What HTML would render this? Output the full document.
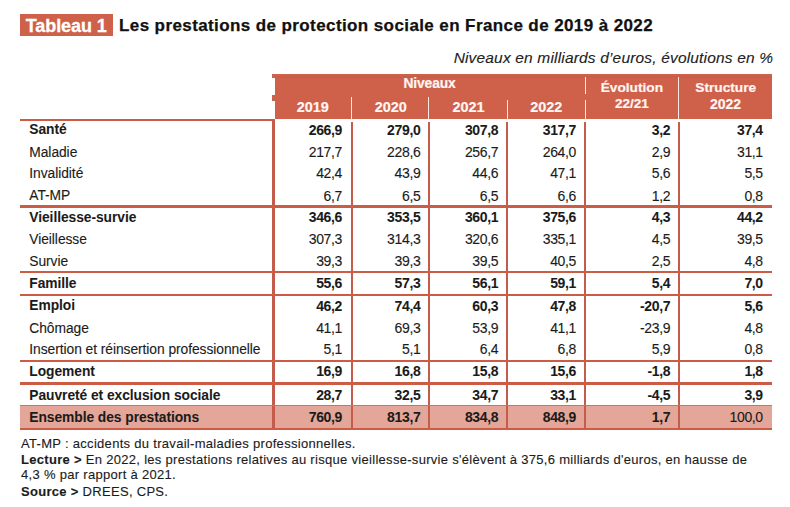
<!DOCTYPE html>
<html><head><meta charset="utf-8"><title>Tableau 1</title>
<style>
html,body{margin:0;padding:0;background:#ffffff;}
body{width:790px;height:507px;position:relative;overflow:hidden;font-family:"Liberation Sans",sans-serif;color:#1b1b1b;}
.t{position:absolute;white-space:nowrap;-webkit-text-stroke:0.12px currentColor;}
.r{position:absolute;}
</style></head><body>
<div class="r" style="left:20.3px;top:14.4px;width:92.8px;height:21.7px;background:#cf614b"></div>
<div class="t" style="top:15.76px;font-size:18px;line-height:21.6px;font-weight:bold;-webkit-text-stroke:0.05px currentColor;color:#ffffff;letter-spacing:-0.1px;left:25.80px;-webkit-text-stroke:0.3px #fff;">Tableau 1</div>
<div class="t" style="top:15.51px;font-size:17px;line-height:20.4px;font-weight:bold;-webkit-text-stroke:0.05px currentColor;color:#111111;letter-spacing:0.4px;left:119.00px;-webkit-text-stroke:0.25px #111;">Les prestations de protection sociale en France de 2019 à 2022</div>
<div class="t" style="top:48.83px;font-size:15.5px;line-height:18.6px;font-style:italic;color:#222222;letter-spacing:0.17px;right:17.00px;margin-right:-0.17px;">Niveaux en milliards d’euros, évolutions en %</div>
<div class="r" style="left:274.9px;top:74.2px;width:496.9px;height:45.3px;background:#cf614b"></div>
<div class="r" style="left:274.9px;top:76.2px;width:496.9px;height:1.6px;background:#c75f48"></div>
<div class="r" style="left:272px;top:74.2px;width:3px;height:4px;background:#cd644f"></div>
<div class="r" style="left:272px;top:95.2px;width:3px;height:5.4px;background:#c7644f"></div>
<div class="r" style="left:350.5px;top:97.3px;width:1.2px;height:22.2px;background:#fbe9e2"></div>
<div class="r" style="left:428.3px;top:97.3px;width:1.2px;height:22.2px;background:#fbe9e2"></div>
<div class="r" style="left:506.7px;top:99.5px;width:1.2px;height:20.0px;background:#fbe9e2"></div>
<div class="r" style="left:584.5px;top:77.4px;width:1.2px;height:16.8px;background:#fbe9e2"></div>
<div class="r" style="left:584.5px;top:99.8px;width:1.2px;height:19.7px;background:#fbe9e2"></div>
<div class="r" style="left:678.0px;top:77.4px;width:1.2px;height:42.1px;background:#fbe9e2"></div>
<div class="t" style="top:76.44px;font-size:13.8px;line-height:16.56px;font-weight:bold;-webkit-text-stroke:0.05px currentColor;color:#fff6f2;letter-spacing:-0.1px;left:229.50px;width:400px;text-align:center;-webkit-text-stroke:0.2px #fff6f2;">Niveaux</div>
<div class="t" style="top:99.37px;font-size:14.4px;line-height:17.28px;font-weight:bold;-webkit-text-stroke:0.05px currentColor;color:#fff6f2;left:112.75px;width:400px;text-align:center;-webkit-text-stroke:0.2px #fff6f2;">2019</div>
<div class="t" style="top:99.37px;font-size:14.4px;line-height:17.28px;font-weight:bold;-webkit-text-stroke:0.05px currentColor;color:#fff6f2;left:190.75px;width:400px;text-align:center;-webkit-text-stroke:0.2px #fff6f2;">2020</div>
<div class="t" style="top:99.37px;font-size:14.4px;line-height:17.28px;font-weight:bold;-webkit-text-stroke:0.05px currentColor;color:#fff6f2;left:268.50px;width:400px;text-align:center;-webkit-text-stroke:0.2px #fff6f2;">2021</div>
<div class="t" style="top:99.37px;font-size:14.4px;line-height:17.28px;font-weight:bold;-webkit-text-stroke:0.05px currentColor;color:#fff6f2;left:346.35px;width:400px;text-align:center;-webkit-text-stroke:0.2px #fff6f2;">2022</div>
<div class="t" style="top:80.03px;font-size:13.7px;line-height:16.44px;font-weight:bold;-webkit-text-stroke:0.05px currentColor;color:#fff6f2;left:431.90px;width:400px;text-align:center;-webkit-text-stroke:0.2px #fff6f2;">Évolution</div>
<div class="t" style="top:96.12px;font-size:13.5px;line-height:16.2px;font-weight:bold;-webkit-text-stroke:0.05px currentColor;color:#fff6f2;left:431.90px;width:400px;text-align:center;-webkit-text-stroke:0.2px #fff6f2;">22/21</div>
<div class="t" style="top:80.03px;font-size:13.7px;line-height:16.44px;font-weight:bold;-webkit-text-stroke:0.05px currentColor;color:#fff6f2;left:525.70px;width:400px;text-align:center;-webkit-text-stroke:0.2px #fff6f2;">Structure</div>
<div class="t" style="top:95.65px;font-size:14px;line-height:16.8px;font-weight:bold;-webkit-text-stroke:0.05px currentColor;color:#fff6f2;left:525.60px;width:400px;text-align:center;-webkit-text-stroke:0.2px #fff6f2;">2022</div>
<div class="r" style="left:20px;top:405.2px;width:752px;height:23.6px;background:#e3a698"></div>
<div class="r" style="left:272.2px;top:120.3px;width:2.4px;height:308.5px;background:#c45c4c"></div>
<div class="r" style="left:351.15px;top:121.8px;width:2.1px;height:307.0px;background:#c45c4c"></div>
<div class="r" style="left:428.35px;top:121.8px;width:2.1px;height:307.0px;background:#c45c4c"></div>
<div class="r" style="left:506.05px;top:121.8px;width:2.1px;height:307.0px;background:#c45c4c"></div>
<div class="r" style="left:584.35px;top:121.8px;width:2.1px;height:307.0px;background:#c45c4c"></div>
<div class="r" style="left:677.55px;top:121.8px;width:2.1px;height:307.0px;background:#c45c4c"></div>
<div class="r" style="left:20px;top:118.5px;width:254.5px;height:2.2px;background:#cd5c47"></div>
<div class="r" style="left:20px;top:205.35px;width:752px;height:2.3px;background:#cd5c47"></div>
<div class="r" style="left:20px;top:271.05px;width:752px;height:2.3px;background:#cd5c47"></div>
<div class="r" style="left:20px;top:293.65px;width:752px;height:2.3px;background:#cd5c47"></div>
<div class="r" style="left:20px;top:359.95px;width:752px;height:2.3px;background:#cd5c47"></div>
<div class="r" style="left:20px;top:382.25px;width:752px;height:2.3px;background:#cd5c47"></div>
<div class="r" style="left:20px;top:404.6px;width:752px;height:1.5px;background:#d4705e"></div>
<div class="r" style="left:20px;top:427.65px;width:752px;height:2.3px;background:#cd5c47"></div>
<div class="t" style="top:122.44px;font-size:13.8px;line-height:16.56px;font-weight:bold;-webkit-text-stroke:0.05px currentColor;letter-spacing:-0.05px;left:29.30px;">Santé</div>
<div class="t" style="top:121.85px;font-size:14px;line-height:16.8px;font-weight:bold;-webkit-text-stroke:0.05px currentColor;letter-spacing:-0.35px;right:448.00px;margin-right:--0.35px;">266,9</div>
<div class="t" style="top:121.85px;font-size:14px;line-height:16.8px;font-weight:bold;-webkit-text-stroke:0.05px currentColor;letter-spacing:-0.35px;right:369.60px;margin-right:--0.35px;">279,0</div>
<div class="t" style="top:121.85px;font-size:14px;line-height:16.8px;font-weight:bold;-webkit-text-stroke:0.05px currentColor;letter-spacing:-0.35px;right:291.80px;margin-right:--0.35px;">307,8</div>
<div class="t" style="top:121.85px;font-size:14px;line-height:16.8px;font-weight:bold;-webkit-text-stroke:0.05px currentColor;letter-spacing:-0.35px;right:214.00px;margin-right:--0.35px;">317,7</div>
<div class="t" style="top:121.85px;font-size:14px;line-height:16.8px;font-weight:bold;-webkit-text-stroke:0.05px currentColor;letter-spacing:-0.35px;right:119.80px;margin-right:--0.35px;">3,2</div>
<div class="t" style="top:121.85px;font-size:14px;line-height:16.8px;font-weight:bold;-webkit-text-stroke:0.05px currentColor;letter-spacing:-0.35px;right:27.20px;margin-right:--0.35px;">37,4</div>
<div class="t" style="top:144.84px;font-size:13.8px;line-height:16.56px;letter-spacing:-0.05px;left:29.30px;">Maladie</div>
<div class="t" style="top:144.25px;font-size:14px;line-height:16.8px;letter-spacing:-0.35px;right:448.00px;margin-right:--0.35px;">217,7</div>
<div class="t" style="top:144.25px;font-size:14px;line-height:16.8px;letter-spacing:-0.35px;right:369.60px;margin-right:--0.35px;">228,6</div>
<div class="t" style="top:144.25px;font-size:14px;line-height:16.8px;letter-spacing:-0.35px;right:291.80px;margin-right:--0.35px;">256,7</div>
<div class="t" style="top:144.25px;font-size:14px;line-height:16.8px;letter-spacing:-0.35px;right:214.00px;margin-right:--0.35px;">264,0</div>
<div class="t" style="top:144.25px;font-size:14px;line-height:16.8px;letter-spacing:-0.35px;right:119.80px;margin-right:--0.35px;">2,9</div>
<div class="t" style="top:144.25px;font-size:14px;line-height:16.8px;letter-spacing:-0.35px;right:27.20px;margin-right:--0.35px;">31,1</div>
<div class="t" style="top:165.94px;font-size:13.8px;line-height:16.56px;letter-spacing:-0.05px;left:29.30px;">Invalidité</div>
<div class="t" style="top:165.35px;font-size:14px;line-height:16.8px;letter-spacing:-0.35px;right:448.00px;margin-right:--0.35px;">42,4</div>
<div class="t" style="top:165.35px;font-size:14px;line-height:16.8px;letter-spacing:-0.35px;right:369.60px;margin-right:--0.35px;">43,9</div>
<div class="t" style="top:165.35px;font-size:14px;line-height:16.8px;letter-spacing:-0.35px;right:291.80px;margin-right:--0.35px;">44,6</div>
<div class="t" style="top:165.35px;font-size:14px;line-height:16.8px;letter-spacing:-0.35px;right:214.00px;margin-right:--0.35px;">47,1</div>
<div class="t" style="top:165.35px;font-size:14px;line-height:16.8px;letter-spacing:-0.35px;right:119.80px;margin-right:--0.35px;">5,6</div>
<div class="t" style="top:165.35px;font-size:14px;line-height:16.8px;letter-spacing:-0.35px;right:27.20px;margin-right:--0.35px;">5,5</div>
<div class="t" style="top:188.14px;font-size:13.8px;line-height:16.56px;letter-spacing:-0.05px;left:29.30px;">AT-MP</div>
<div class="t" style="top:187.55px;font-size:14px;line-height:16.8px;letter-spacing:-0.35px;right:448.00px;margin-right:--0.35px;">6,7</div>
<div class="t" style="top:187.55px;font-size:14px;line-height:16.8px;letter-spacing:-0.35px;right:369.60px;margin-right:--0.35px;">6,5</div>
<div class="t" style="top:187.55px;font-size:14px;line-height:16.8px;letter-spacing:-0.35px;right:291.80px;margin-right:--0.35px;">6,5</div>
<div class="t" style="top:187.55px;font-size:14px;line-height:16.8px;letter-spacing:-0.35px;right:214.00px;margin-right:--0.35px;">6,6</div>
<div class="t" style="top:187.55px;font-size:14px;line-height:16.8px;letter-spacing:-0.35px;right:119.80px;margin-right:--0.35px;">1,2</div>
<div class="t" style="top:187.55px;font-size:14px;line-height:16.8px;letter-spacing:-0.35px;right:27.20px;margin-right:--0.35px;">0,8</div>
<div class="t" style="top:210.04px;font-size:13.8px;line-height:16.56px;font-weight:bold;-webkit-text-stroke:0.05px currentColor;letter-spacing:-0.05px;left:29.30px;">Vieillesse-survie</div>
<div class="t" style="top:209.45px;font-size:14px;line-height:16.8px;font-weight:bold;-webkit-text-stroke:0.05px currentColor;letter-spacing:-0.35px;right:448.00px;margin-right:--0.35px;">346,6</div>
<div class="t" style="top:209.45px;font-size:14px;line-height:16.8px;font-weight:bold;-webkit-text-stroke:0.05px currentColor;letter-spacing:-0.35px;right:369.60px;margin-right:--0.35px;">353,5</div>
<div class="t" style="top:209.45px;font-size:14px;line-height:16.8px;font-weight:bold;-webkit-text-stroke:0.05px currentColor;letter-spacing:-0.35px;right:291.80px;margin-right:--0.35px;">360,1</div>
<div class="t" style="top:209.45px;font-size:14px;line-height:16.8px;font-weight:bold;-webkit-text-stroke:0.05px currentColor;letter-spacing:-0.35px;right:214.00px;margin-right:--0.35px;">375,6</div>
<div class="t" style="top:209.45px;font-size:14px;line-height:16.8px;font-weight:bold;-webkit-text-stroke:0.05px currentColor;letter-spacing:-0.35px;right:119.80px;margin-right:--0.35px;">4,3</div>
<div class="t" style="top:209.45px;font-size:14px;line-height:16.8px;font-weight:bold;-webkit-text-stroke:0.05px currentColor;letter-spacing:-0.35px;right:27.20px;margin-right:--0.35px;">44,2</div>
<div class="t" style="top:231.54px;font-size:13.8px;line-height:16.56px;letter-spacing:-0.05px;left:29.30px;">Vieillesse</div>
<div class="t" style="top:230.95px;font-size:14px;line-height:16.8px;letter-spacing:-0.35px;right:448.00px;margin-right:--0.35px;">307,3</div>
<div class="t" style="top:230.95px;font-size:14px;line-height:16.8px;letter-spacing:-0.35px;right:369.60px;margin-right:--0.35px;">314,3</div>
<div class="t" style="top:230.95px;font-size:14px;line-height:16.8px;letter-spacing:-0.35px;right:291.80px;margin-right:--0.35px;">320,6</div>
<div class="t" style="top:230.95px;font-size:14px;line-height:16.8px;letter-spacing:-0.35px;right:214.00px;margin-right:--0.35px;">335,1</div>
<div class="t" style="top:230.95px;font-size:14px;line-height:16.8px;letter-spacing:-0.35px;right:119.80px;margin-right:--0.35px;">4,5</div>
<div class="t" style="top:230.95px;font-size:14px;line-height:16.8px;letter-spacing:-0.35px;right:27.20px;margin-right:--0.35px;">39,5</div>
<div class="t" style="top:253.74px;font-size:13.8px;line-height:16.56px;letter-spacing:-0.05px;left:29.30px;">Survie</div>
<div class="t" style="top:253.15px;font-size:14px;line-height:16.8px;letter-spacing:-0.35px;right:448.00px;margin-right:--0.35px;">39,3</div>
<div class="t" style="top:253.15px;font-size:14px;line-height:16.8px;letter-spacing:-0.35px;right:369.60px;margin-right:--0.35px;">39,3</div>
<div class="t" style="top:253.15px;font-size:14px;line-height:16.8px;letter-spacing:-0.35px;right:291.80px;margin-right:--0.35px;">39,5</div>
<div class="t" style="top:253.15px;font-size:14px;line-height:16.8px;letter-spacing:-0.35px;right:214.00px;margin-right:--0.35px;">40,5</div>
<div class="t" style="top:253.15px;font-size:14px;line-height:16.8px;letter-spacing:-0.35px;right:119.80px;margin-right:--0.35px;">2,5</div>
<div class="t" style="top:253.15px;font-size:14px;line-height:16.8px;letter-spacing:-0.35px;right:27.20px;margin-right:--0.35px;">4,8</div>
<div class="t" style="top:276.04px;font-size:13.8px;line-height:16.56px;font-weight:bold;-webkit-text-stroke:0.05px currentColor;letter-spacing:-0.05px;left:29.30px;">Famille</div>
<div class="t" style="top:275.45px;font-size:14px;line-height:16.8px;font-weight:bold;-webkit-text-stroke:0.05px currentColor;letter-spacing:-0.35px;right:448.00px;margin-right:--0.35px;">55,6</div>
<div class="t" style="top:275.45px;font-size:14px;line-height:16.8px;font-weight:bold;-webkit-text-stroke:0.05px currentColor;letter-spacing:-0.35px;right:369.60px;margin-right:--0.35px;">57,3</div>
<div class="t" style="top:275.45px;font-size:14px;line-height:16.8px;font-weight:bold;-webkit-text-stroke:0.05px currentColor;letter-spacing:-0.35px;right:291.80px;margin-right:--0.35px;">56,1</div>
<div class="t" style="top:275.45px;font-size:14px;line-height:16.8px;font-weight:bold;-webkit-text-stroke:0.05px currentColor;letter-spacing:-0.35px;right:214.00px;margin-right:--0.35px;">59,1</div>
<div class="t" style="top:275.45px;font-size:14px;line-height:16.8px;font-weight:bold;-webkit-text-stroke:0.05px currentColor;letter-spacing:-0.35px;right:119.80px;margin-right:--0.35px;">5,4</div>
<div class="t" style="top:275.45px;font-size:14px;line-height:16.8px;font-weight:bold;-webkit-text-stroke:0.05px currentColor;letter-spacing:-0.35px;right:27.20px;margin-right:--0.35px;">7,0</div>
<div class="t" style="top:298.44px;font-size:13.8px;line-height:16.56px;font-weight:bold;-webkit-text-stroke:0.05px currentColor;letter-spacing:-0.05px;left:29.30px;">Emploi</div>
<div class="t" style="top:297.85px;font-size:14px;line-height:16.8px;font-weight:bold;-webkit-text-stroke:0.05px currentColor;letter-spacing:-0.35px;right:448.00px;margin-right:--0.35px;">46,2</div>
<div class="t" style="top:297.85px;font-size:14px;line-height:16.8px;font-weight:bold;-webkit-text-stroke:0.05px currentColor;letter-spacing:-0.35px;right:369.60px;margin-right:--0.35px;">74,4</div>
<div class="t" style="top:297.85px;font-size:14px;line-height:16.8px;font-weight:bold;-webkit-text-stroke:0.05px currentColor;letter-spacing:-0.35px;right:291.80px;margin-right:--0.35px;">60,3</div>
<div class="t" style="top:297.85px;font-size:14px;line-height:16.8px;font-weight:bold;-webkit-text-stroke:0.05px currentColor;letter-spacing:-0.35px;right:214.00px;margin-right:--0.35px;">47,8</div>
<div class="t" style="top:297.85px;font-size:14px;line-height:16.8px;font-weight:bold;-webkit-text-stroke:0.05px currentColor;letter-spacing:-0.35px;right:119.80px;margin-right:--0.35px;">-20,7</div>
<div class="t" style="top:297.85px;font-size:14px;line-height:16.8px;font-weight:bold;-webkit-text-stroke:0.05px currentColor;letter-spacing:-0.35px;right:27.20px;margin-right:--0.35px;">5,6</div>
<div class="t" style="top:320.64px;font-size:13.8px;line-height:16.56px;letter-spacing:-0.05px;left:29.30px;">Chômage</div>
<div class="t" style="top:320.05px;font-size:14px;line-height:16.8px;letter-spacing:-0.35px;right:448.00px;margin-right:--0.35px;">41,1</div>
<div class="t" style="top:320.05px;font-size:14px;line-height:16.8px;letter-spacing:-0.35px;right:369.60px;margin-right:--0.35px;">69,3</div>
<div class="t" style="top:320.05px;font-size:14px;line-height:16.8px;letter-spacing:-0.35px;right:291.80px;margin-right:--0.35px;">53,9</div>
<div class="t" style="top:320.05px;font-size:14px;line-height:16.8px;letter-spacing:-0.35px;right:214.00px;margin-right:--0.35px;">41,1</div>
<div class="t" style="top:320.05px;font-size:14px;line-height:16.8px;letter-spacing:-0.35px;right:119.80px;margin-right:--0.35px;">-23,9</div>
<div class="t" style="top:320.05px;font-size:14px;line-height:16.8px;letter-spacing:-0.35px;right:27.20px;margin-right:--0.35px;">4,8</div>
<div class="t" style="top:341.64px;font-size:13.8px;line-height:16.56px;letter-spacing:-0.05px;left:29.30px;">Insertion et réinsertion professionnelle</div>
<div class="t" style="top:341.05px;font-size:14px;line-height:16.8px;letter-spacing:-0.35px;right:448.00px;margin-right:--0.35px;">5,1</div>
<div class="t" style="top:341.05px;font-size:14px;line-height:16.8px;letter-spacing:-0.35px;right:369.60px;margin-right:--0.35px;">5,1</div>
<div class="t" style="top:341.05px;font-size:14px;line-height:16.8px;letter-spacing:-0.35px;right:291.80px;margin-right:--0.35px;">6,4</div>
<div class="t" style="top:341.05px;font-size:14px;line-height:16.8px;letter-spacing:-0.35px;right:214.00px;margin-right:--0.35px;">6,8</div>
<div class="t" style="top:341.05px;font-size:14px;line-height:16.8px;letter-spacing:-0.35px;right:119.80px;margin-right:--0.35px;">5,9</div>
<div class="t" style="top:341.05px;font-size:14px;line-height:16.8px;letter-spacing:-0.35px;right:27.20px;margin-right:--0.35px;">0,8</div>
<div class="t" style="top:363.94px;font-size:13.8px;line-height:16.56px;font-weight:bold;-webkit-text-stroke:0.05px currentColor;letter-spacing:-0.05px;left:29.30px;">Logement</div>
<div class="t" style="top:363.35px;font-size:14px;line-height:16.8px;font-weight:bold;-webkit-text-stroke:0.05px currentColor;letter-spacing:-0.35px;right:448.00px;margin-right:--0.35px;">16,9</div>
<div class="t" style="top:363.35px;font-size:14px;line-height:16.8px;font-weight:bold;-webkit-text-stroke:0.05px currentColor;letter-spacing:-0.35px;right:369.60px;margin-right:--0.35px;">16,8</div>
<div class="t" style="top:363.35px;font-size:14px;line-height:16.8px;font-weight:bold;-webkit-text-stroke:0.05px currentColor;letter-spacing:-0.35px;right:291.80px;margin-right:--0.35px;">15,8</div>
<div class="t" style="top:363.35px;font-size:14px;line-height:16.8px;font-weight:bold;-webkit-text-stroke:0.05px currentColor;letter-spacing:-0.35px;right:214.00px;margin-right:--0.35px;">15,6</div>
<div class="t" style="top:363.35px;font-size:14px;line-height:16.8px;font-weight:bold;-webkit-text-stroke:0.05px currentColor;letter-spacing:-0.35px;right:119.80px;margin-right:--0.35px;">-1,8</div>
<div class="t" style="top:363.35px;font-size:14px;line-height:16.8px;font-weight:bold;-webkit-text-stroke:0.05px currentColor;letter-spacing:-0.35px;right:27.20px;margin-right:--0.35px;">1,8</div>
<div class="t" style="top:387.54px;font-size:13.8px;line-height:16.56px;font-weight:bold;-webkit-text-stroke:0.05px currentColor;letter-spacing:-0.05px;left:29.30px;">Pauvreté et exclusion sociale</div>
<div class="t" style="top:386.95px;font-size:14px;line-height:16.8px;font-weight:bold;-webkit-text-stroke:0.05px currentColor;letter-spacing:-0.35px;right:448.00px;margin-right:--0.35px;">28,7</div>
<div class="t" style="top:386.95px;font-size:14px;line-height:16.8px;font-weight:bold;-webkit-text-stroke:0.05px currentColor;letter-spacing:-0.35px;right:369.60px;margin-right:--0.35px;">32,5</div>
<div class="t" style="top:386.95px;font-size:14px;line-height:16.8px;font-weight:bold;-webkit-text-stroke:0.05px currentColor;letter-spacing:-0.35px;right:291.80px;margin-right:--0.35px;">34,7</div>
<div class="t" style="top:386.95px;font-size:14px;line-height:16.8px;font-weight:bold;-webkit-text-stroke:0.05px currentColor;letter-spacing:-0.35px;right:214.00px;margin-right:--0.35px;">33,1</div>
<div class="t" style="top:386.95px;font-size:14px;line-height:16.8px;font-weight:bold;-webkit-text-stroke:0.05px currentColor;letter-spacing:-0.35px;right:119.80px;margin-right:--0.35px;">-4,5</div>
<div class="t" style="top:386.95px;font-size:14px;line-height:16.8px;font-weight:bold;-webkit-text-stroke:0.05px currentColor;letter-spacing:-0.35px;right:27.20px;margin-right:--0.35px;">3,9</div>
<div class="t" style="top:410.04px;font-size:13.8px;line-height:16.56px;font-weight:bold;-webkit-text-stroke:0.05px currentColor;letter-spacing:-0.05px;left:29.30px;">Ensemble des prestations</div>
<div class="t" style="top:409.45px;font-size:14px;line-height:16.8px;font-weight:bold;-webkit-text-stroke:0.05px currentColor;letter-spacing:-0.35px;right:448.00px;margin-right:--0.35px;">760,9</div>
<div class="t" style="top:409.45px;font-size:14px;line-height:16.8px;font-weight:bold;-webkit-text-stroke:0.05px currentColor;letter-spacing:-0.35px;right:369.60px;margin-right:--0.35px;">813,7</div>
<div class="t" style="top:409.45px;font-size:14px;line-height:16.8px;font-weight:bold;-webkit-text-stroke:0.05px currentColor;letter-spacing:-0.35px;right:291.80px;margin-right:--0.35px;">834,8</div>
<div class="t" style="top:409.45px;font-size:14px;line-height:16.8px;font-weight:bold;-webkit-text-stroke:0.05px currentColor;letter-spacing:-0.35px;right:214.00px;margin-right:--0.35px;">848,9</div>
<div class="t" style="top:409.45px;font-size:14px;line-height:16.8px;font-weight:bold;-webkit-text-stroke:0.05px currentColor;letter-spacing:-0.35px;right:119.80px;margin-right:--0.35px;">1,7</div>
<div class="t" style="top:409.45px;font-size:14px;line-height:16.8px;letter-spacing:-0.35px;right:27.20px;margin-right:--0.35px;">100,0</div>
<div class="t" style="top:435.69px;font-size:13px;line-height:15.6px;letter-spacing:0.3px;left:21.00px;">AT-MP : accidents du travail-maladies professionnelles.</div>
<div class="t" style="top:451.89px;font-size:13px;line-height:15.6px;letter-spacing:0.3px;left:21.00px;"><b>Lecture &gt;</b> En 2022, les prestations relatives au risque vieillesse-survie s&#39;élèvent à 375,6 milliards d&#39;euros, en hausse de</div>
<div class="t" style="top:467.49px;font-size:13px;line-height:15.6px;letter-spacing:0.3px;left:21.00px;">4,3 % par rapport à 2021.</div>
<div class="t" style="top:483.79px;font-size:13px;line-height:15.6px;letter-spacing:0.3px;left:21.00px;"><b>Source &gt;</b> DREES, CPS.</div>
</body></html>
